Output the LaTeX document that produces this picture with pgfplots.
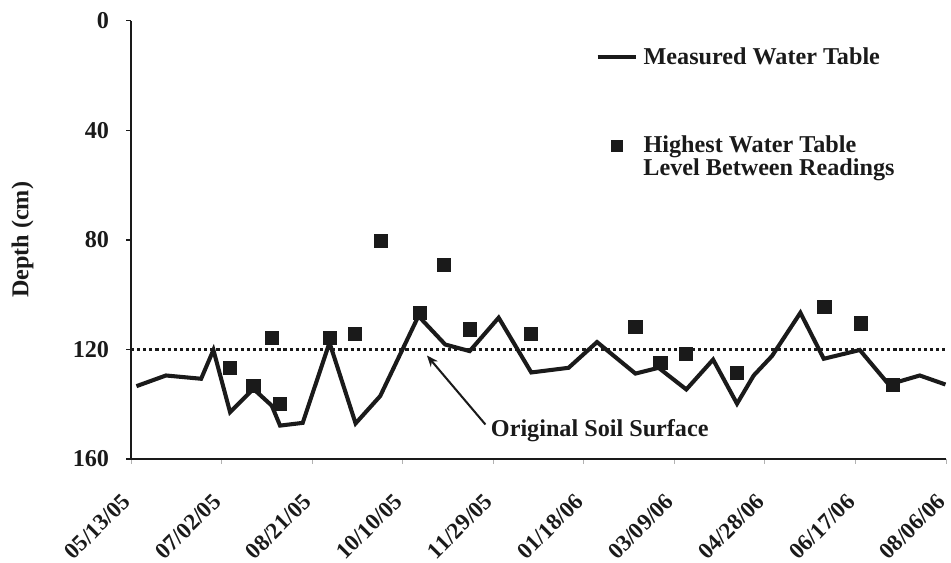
\documentclass[border=0pt]{standalone}
\usepackage{fontspec}
\setmainfont{Liberation Serif}
\usepackage{pgfplots}
\pgfplotsset{compat=1.18}
\usetikzlibrary{arrows.meta}
\definecolor{ink}{HTML}{1A1A1A}
\newcommand{\lab}{\fontsize{10.7}{12.8}\selectfont\bfseries}

\begin{document}
\begin{tikzpicture}
\useasboundingbox (-58pt,-46pt) rectangle (363pt,203.2pt);
\begin{axis}[
  at={(0,0)}, anchor=south west,
  scale only axis,
  width=360.8pt, height=194pt,
  xmin=0, xmax=450,
  ymin=0, ymax=160,
  y dir=reverse,
  axis x line*=bottom, axis y line*=left,
  axis line style={draw=ink, line width=0.8pt},
  xtick={0,50,...,450},
  xticklabels={05/13/05,07/02/05,08/21/05,10/10/05,11/29/05,01/18/06,03/09/06,04/28/06,06/17/06,08/06/06},
  ytick={0,40,80,120,160},
  tick align=outside,
  major tick length=2.2pt,
  x tick style={draw=gray!60, line width=0.4pt},
  y tick style={draw=ink, line width=0.6pt},
  /pgf/number format/assume math mode=true,
  tick label style={font=\lab, text=ink},
  xticklabel style={font=\fontsize{10.2}{12}\selectfont\bfseries,
    xshift=-4.5pt, yshift=-12.2pt, rotate=45, anchor=north east, inner sep=0pt},
  yticklabel style={xshift=-4pt},
  ylabel={Depth (cm)},
  ylabel style={font=\lab, text=ink, at={(axis description cs:-0.133,0.5)}, anchor=center},
  clip=false,
  legend style={draw=none, fill=none, font=\lab, text=ink, inner sep=0pt, outer sep=0pt,
    row sep=25.6pt, at={(axis cs:256.5,7.7)}, anchor=north west,
    nodes={inner sep=2.4pt}},
  legend cell align=left,
]
\addplot[ink, line width=1.8pt, line join=miter, mark=none] coordinates {
  (3,133.4) (19.3,129.5) (38.7,130.7) (45.5,120.2) (54.7,142.9) (67.6,134.4)
  (77.7,140.5) (82.3,147.8) (94.8,146.8) (109.6,117.5) (124,147) (137.6,137)
  (158.7,107.8) (173.5,118.2) (187,120.6) (203,108.4) (221,128.4) (241.6,126.7)
  (257.3,117.3) (278.5,128.8) (291.3,126.7) (306.6,134.6) (321.4,123.7) (334.6,139.8)
  (343.8,129.5) (353.9,122.4) (369.6,106.6) (382.5,123.4) (402.4,120.2) (418.4,132.8)
  (435.5,129.5) (449.7,132.8)
};
\addlegendentry{Measured Water Table}
\addplot[only marks, mark=square*, mark size=2.9pt, ink, mark options={fill=ink, draw=ink},
  legend image post style={mark size=2.4pt}] coordinates {
  (54.7,126.7) (67.6,133.2) (77.7,115.7) (82,139.8) (109.6,115.7) (123.8,114.5)
  (138,80.5) (159.3,106.6) (173,89.3) (187,112.7) (220.8,114.5) (278.5,111.7)
  (292.3,124.9) (306.6,121.5) (334.6,128.5) (382.9,104.4) (402.8,110.5) (420.8,132.8)
};
\addlegendentry{Highest Water Table}
\addplot[ink, line width=1.3pt, dash pattern=on 1.4pt off 1.3pt, forget plot] coordinates {(0,120) (450,120)};
\node[anchor=base west, inner sep=0pt, font=\lab, text=ink] at (axis cs:282.7,56.4) {Level Between Readings};
\draw[ink, line width=0.9pt, -{Stealth[length=5pt,width=4pt]}] (axis cs:195.7,147.4) -- (axis cs:163.4,122.2);
\node[anchor=base west, inner sep=0pt, font=\lab, text=ink] at (axis cs:198.5,151.7) {Original Soil Surface};
\end{axis}
\end{tikzpicture}
\end{document}
